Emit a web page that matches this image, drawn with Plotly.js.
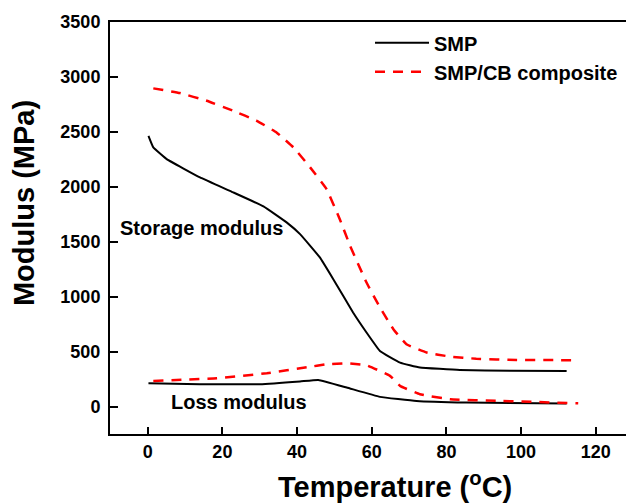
<!DOCTYPE html>
<html>
<head>
<meta charset="utf-8">
<script src="https://cdn.plot.ly/plotly-3.0.1.min.js"></script>
<style>html,body{margin:0;padding:0;background:#fff;overflow:hidden}</style>
</head>
<body>
<div id="chart" style="width:626px;height:504px;"></div>
<script>
// Temperature (°C) and modulus (MPa) values
const smpStorageT = [0.2, 1.5, 5.1, 14, 22.9, 31, 37.2, 40.8, 46.1, 49.7, 55, 58.6, 62.2, 67.6, 72.9, 83.6, 97, 112.2];
const smpStorage  = [2464, 2359, 2252, 2085, 1949, 1822, 1676, 1569, 1357, 1159, 856, 674, 506, 400, 355, 333, 326, 324];

const compStorageT = [1.5, 8.6, 15.8, 22.9, 29.2, 34.5, 39, 43.5, 47.9, 51.5, 54.2, 58.6, 62.2, 65.8, 69.3, 74.7, 80.9, 88, 98.8, 115.3];
const compStorage  = [2896, 2853, 2783, 2692, 2601, 2495, 2359, 2177, 1979, 1700, 1463, 1129, 902, 704, 567, 492, 455, 435, 424, 422];

const smpLossT = [0.2, 14, 30, 40.8, 45.7, 53.3, 62.2, 72, 85.4, 112.2];
const smpLoss  = [212, 203, 203, 228, 242, 173, 88, 51, 36, 27];

const compLossT = [1.5, 18.5, 31.9, 42.6, 48, 53.3, 58.6, 64.9, 67.6, 72.9, 81, 94.3, 115.3];
const compLoss  = [233, 258, 303, 357, 385, 394, 376, 279, 188, 112, 66, 51, 30];

const xTicks = [0, 20, 40, 60, 80, 100, 120];
const yTicks = [0, 500, 1000, 1500, 2000, 2500, 3000, 3500];

const FONT = 'Arial, "Liberation Sans", sans-serif';
const blackLine = {color: '#000000', width: 2, shape: 'spline', smoothing: 0.3};
const redLine = {color: '#ff0000', width: 2.5, dash: '10px,8px', shape: 'spline', smoothing: 0.3};

const data = [
  {x: smpStorageT, y: smpStorage, mode: 'lines', name: 'SMP', line: blackLine, legendgroup: 'a'},
  {x: compStorageT, y: compStorage, mode: 'lines', name: 'SMP/CB composite', line: redLine, legendgroup: 'b'},
  {x: smpLossT, y: smpLoss, mode: 'lines', name: 'SMP loss', line: blackLine, showlegend: false},
  {x: compLossT, y: compLoss, mode: 'lines', name: 'SMP/CB loss', line: redLine, showlegend: false}
];

const layout = {
  width: 626, height: 504,
  margin: {l: 110, r: 0, t: 22, b: 70},
  paper_bgcolor: '#ffffff', plot_bgcolor: '#ffffff',
  font: {family: FONT, color: '#000'},
  showlegend: true,
  legend: {
    x: 0.5039, y: 0.997, xanchor: 'left', yanchor: 'top',
    font: {family: FONT, size: 20, color: '#000', weight: 'bold'},
    bgcolor: 'rgba(0,0,0,0)', tracegroupgap: 0, itemwidth: 54
  },
  xaxis: {
    range: [-10.1, 128.1], tickvals: xTicks, ticktext: xTicks.map(String),
    showgrid: false, zeroline: false, showline: true, mirror: true,
    linecolor: '#000', linewidth: 2, ticks: 'inside', ticklen: 7, tickwidth: 2, tickcolor: '#000',
    tickfont: {family: FONT, size: 18, color: '#000', weight: 'bold'}
  },
  yaxis: {
    range: [-250, 3500], tickvals: yTicks, ticktext: yTicks.map(String),
    showgrid: false, zeroline: false, showline: true, mirror: false,
    linecolor: '#000', linewidth: 2, ticks: 'inside', ticklen: 8, tickwidth: 2, tickcolor: '#000',
    ticklabelstandoff: 4,
    tickfont: {family: FONT, size: 18, color: '#000', weight: 'bold'}
  },
  annotations: [
    {text: 'Storage modulus', x: 14.35, y: 1624, xref: 'x', yref: 'y', showarrow: false,
     font: {family: FONT, size: 20, color: '#000', weight: 'bold'}},
    {text: 'Loss modulus', x: 24.4, y: 44, xref: 'x', yref: 'y', showarrow: false,
     font: {family: FONT, size: 20, color: '#000', weight: 'bold'}},
    {text: 'Temperature (<sup>o</sup>C)', x: 0.5514, y: -0.124, xref: 'paper', yref: 'paper',
     xanchor: 'center', yanchor: 'middle', showarrow: false,
     font: {family: FONT, size: 29, color: '#000', weight: 'bold'}},
    {text: 'Modulus (MPa)', x: -0.1665, y: 0.5607, xref: 'paper', yref: 'paper', textangle: -90,
     xanchor: 'center', yanchor: 'middle', showarrow: false,
     font: {family: FONT, size: 29, color: '#000', weight: 'bold'}}
  ]
};

Plotly.newPlot('chart', data, layout, {displayModeBar: false, staticPlot: true});
</script>
</body>
</html>
